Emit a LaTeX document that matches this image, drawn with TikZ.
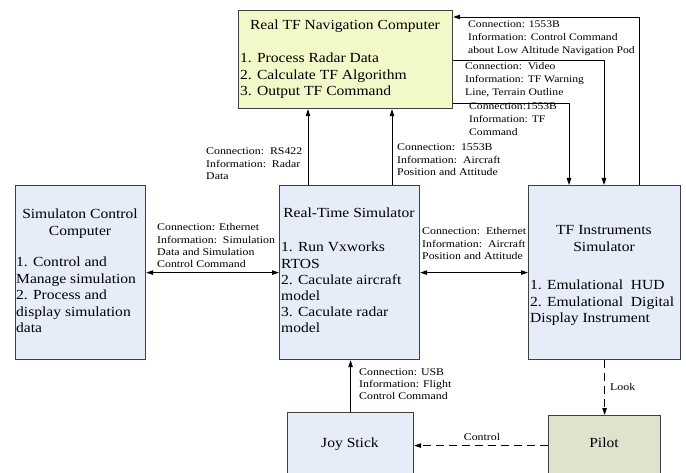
\documentclass[tikz,border=0pt]{standalone}
\usepackage{fontspec}
\setmainfont{Liberation Serif}
\newfontfamily\bxfam[FakeStretch=1.12]{Liberation Serif}
\newfontfamily\lbfam[FakeStretch=1.15]{Liberation Serif}
\usetikzlibrary{arrows.meta}
\definecolor{navfill}{RGB}{242,248,200}
\definecolor{bluefill}{RGB}{230,236,248}
\definecolor{pilotfill}{RGB}{221,227,204}
\definecolor{edge}{RGB}{64,64,64}
\newcommand\lstack[1]{\vtop{\halign{##\hfil\cr#1\crcr}}}
\newcommand\cstack[1]{\vtop{\halign{\hfil##\hfil\cr#1\crcr}}}
\tikzset{
  box/.style={draw=edge, line width=1.2pt, anchor=north west, inner sep=0pt},
  boxtxt/.style={inner sep=0pt, font=\bxfam\fontsize{13.9}{16.2}\selectfont},
  lbl/.style={inner sep=0pt, anchor=base west, font=\lbfam\fontsize{10.3}{12.2}\selectfont},
  lblb/.style={inner sep=0pt, anchor=base west, font=\lbfam\fontsize{10.1}{12.8}\selectfont},
  arr/.style={line width=0.9pt, -{Triangle[length=7pt,width=4.5pt]}},
  darr/.style={line width=0.9pt, {Triangle[length=7pt,width=4.5pt]}-{Triangle[length=7pt,width=4.5pt]}},
  dsh/.style={line width=0.9pt, dash pattern=on 8pt off 5pt, -{Triangle[length=7pt,width=4.5pt]}}
}
\begin{document}
\begin{tikzpicture}[x=1pt,y=-1pt]
\useasboundingbox (0,0) rectangle (686,473);
% boxes
\node[box, fill=navfill, minimum width=214pt, minimum height=98pt] (nav) at (238,10) {};
\node[box, fill=bluefill, minimum width=130pt, minimum height=174pt] (sc) at (15,185) {};
\node[box, fill=bluefill, minimum width=140pt, minimum height=174pt] (rt) at (279,185) {};
\node[box, fill=bluefill, minimum width=152pt, minimum height=174pt] (tf) at (528,185) {};
\node[box, fill=bluefill, minimum width=126pt, minimum height=66pt] (joy) at (287,412) {};
\node[box, fill=pilotfill, minimum width=112pt, minimum height=60pt] (pilot) at (548,415) {};
% box texts
\node[boxtxt, anchor=base] (navt) at (345,30) {Real TF Navigation Computer};
\node[boxtxt, anchor=base west] (navl) at (240,63) {\lstack{1. Process Radar Data\cr 2. Calculate TF Algorithm\cr 3. Output TF Command}};
\node[boxtxt, anchor=base] (sct) at (80,219) {\cstack{Simulaton Control\cr Computer}};
\node[boxtxt, anchor=base west, font=\bxfam\fontsize{13.9}{16.5}\selectfont] (scl) at (16,267) {\lstack{1. Control and\cr Manage simulation\cr 2. Process and\cr display simulation\cr data}};
\node[boxtxt, anchor=base] (rtt) at (349,218) {Real-Time Simulator};
\node[boxtxt, anchor=base west] (rtl) at (281,252) {\lstack{1. Run Vxworks\cr RTOS\cr 2. Caculate aircraft\cr model\cr 3. Caculate radar\cr model}};
\node[boxtxt, anchor=base] (tft) at (604,235) {\cstack{TF Instruments\cr Simulator}};
\node[boxtxt, anchor=base west] (tfl) at (530,290) {\lstack{1. Emulational\ \ HUD\cr 2. Emulational\ \ Digital\cr Display Instrument}};
\node[boxtxt, anchor=base] (joyt) at (350,447) {Joy Stick};
\node[boxtxt, anchor=base] (pilott) at (604,447) {Pilot};
% connectors
\draw[arr] ([xshift=111pt]tf.north west) |- ([yshift=-7pt]nav.north east);
\draw[arr] ([yshift=-50pt]nav.north east) -| ([xshift=76pt]tf.north west);
\draw[arr] ([yshift=-93pt]nav.north east) -| ([xshift=41pt]tf.north west);
\draw[arr] ([xshift=29pt]rt.north west) -- ([xshift=29pt]rt.north west |- nav.south);
\draw[arr] ([xshift=113pt]rt.north west) -- ([xshift=113pt]rt.north west |- nav.south);
\draw[darr] (sc.east) -- (rt.west);
\draw[darr] (rt.east) -- (tf.west);
\draw[arr] (joy.north) -- (joy.north |- rt.south);
\draw[dsh] (tf.south) -- (pilot.north);
\draw[dsh] (pilot.west) -- (joy.east);
% labels
\node[lblb] (l1) at (468,28) {\lstack{Connection: 1553B\cr Information: Control Command\cr about Low Altitude Navigation Pod}};
\node[lblb] (l2) at (465,70) {\lstack{Connection:\ \ Video\cr Information: TF Warning\cr Line, Terrain Outline}};
\node[lblb] (l3) at (469,110) {\lstack{Connection:1553B\cr Information: TF\cr Command}};
\node[lbl] (l4) at (397,151) {\lstack{Connection:\ \ 1553B\cr Information:\ \ Aircraft\cr Position and Attitude}};
\node[lbl] (l5) at (206,155) {\lstack{Connection:\ \ RS422\cr Information:\ \ Radar\cr Data}};
\node[lbl] (l6) at (157,231) {\lstack{Connection: Ethernet\cr Information:\ \ Simulation\cr Data and Simulation\cr Control Command}};
\node[lbl] (l7) at (422,235) {\lstack{Connection:\ \ Ethernet\cr Information:\ \ Aircraft\cr Position and Attitude}};
\node[lbl] (l8) at (359,375) {\lstack{Connection: USB\cr Information: Flight\cr Control Command}};
\node[lbl] (l9) at (610,390) {Look};
\node[lbl, anchor=base] (l10) at (482,440) {Control};
\end{tikzpicture}
\end{document}
